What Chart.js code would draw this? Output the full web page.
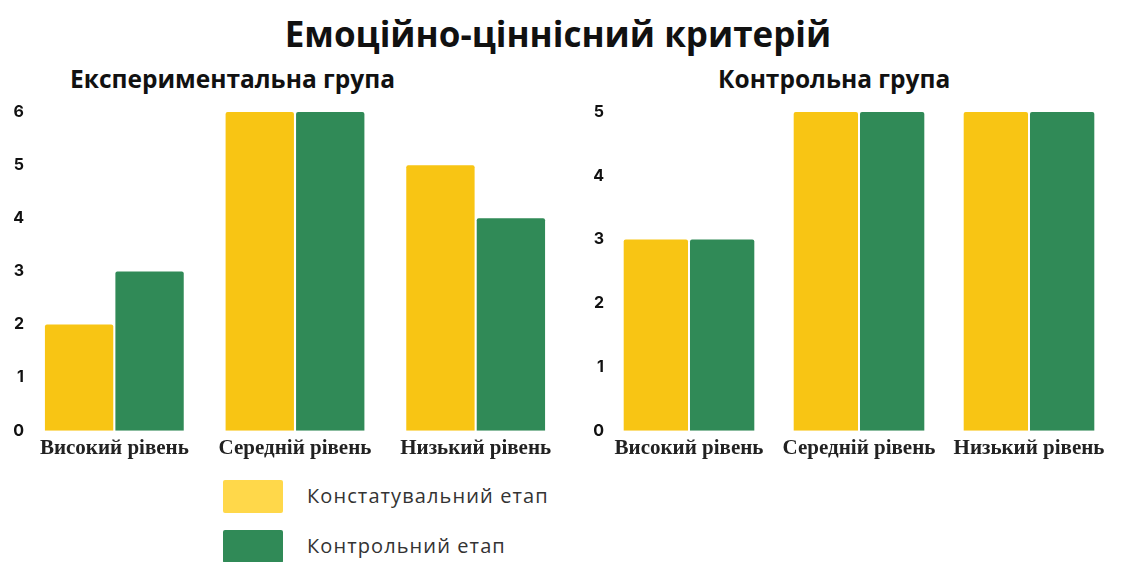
<!DOCTYPE html>
<html lang="uk">
<head>
<meta charset="UTF-8">
<title>Емоційно-ціннісний критерій</title>
<script src="https://cdn.jsdelivr.net/npm/chart.js"></script>
<style>
    body { margin: 0; background: #fff; width: 1134px; height: 562px; position: relative; overflow: hidden; }
    #title { position: absolute; left: -9px; width: 1134px; top: 10px; text-align: center; line-height: 48px;
        font: bold 35px "Open Sans", sans-serif; color: #111; }
    .sub { position: absolute; top: 62px; line-height: 34px; font: bold 24.5px "Open Sans", sans-serif; color: #111; }
    #leftBox { position: absolute; left: 0; top: 95px; width: 572px; height: 379px; }
    #rightBox { position: absolute; left: 578px; top: 95px; width: 540px; height: 379px; }
    .legend-row { position: absolute; left: 223px; height: 33px; }
    .legend-row span.sw { position: absolute; left: 0; top: 0; width: 60px; height: 33px; border-radius: 2px; }
    .legend-row span.tx { position: absolute; left: 84px; top: 2px; line-height: 30px; white-space: nowrap;
        font: 20px "Open Sans", sans-serif; color: #333; letter-spacing: 1.1px; }
</style>
</head>
<body>
    <div id="title">Емоційно-ціннісний критерій</div>
    <div class="sub" style="left:70px">Експериментальна група</div>
    <div class="sub" style="left:718px">Контрольна група</div>
    <div id="leftBox"><canvas id="expChart"></canvas></div>
    <div id="rightBox"><canvas id="ctrlChart"></canvas></div>
    <div class="legend-row" style="top:480px"><span class="sw" id="sw1"></span><span class="tx" id="lg1"></span></div>
    <div class="legend-row" style="top:530px"><span class="sw" id="sw2"></span><span class="tx" id="lg2"></span></div>

<script>
    var categories = ['Високий рівень', 'Середній рівень', 'Низький рівень'];
    var seriesNames = ['Констатувальний етап', 'Контрольний етап'];
    var expStart = [2, 6, 5];
    var expEnd = [3, 6, 4];
    var ctrlStart = [3, 5, 5];
    var ctrlEnd = [3, 5, 5];

    var yellow = '#F8C514';
    var green = '#308A57';

    document.getElementById('sw1').style.background = '#FFD84A';
    document.getElementById('sw2').style.background = green;
    document.getElementById('lg1').textContent = seriesNames[0];
    document.getElementById('lg2').textContent = seriesNames[1];

    function makeChart(id, a, b, maxY, axisWidth, pad) {
        var ctx = document.getElementById(id).getContext('2d');
        return new Chart(ctx, {
            type: 'bar',
            data: {
                labels: categories,
                datasets: [
                    { label: seriesNames[0], data: a, backgroundColor: yellow, borderRadius: 2,
                      categoryPercentage: 0.78, barPercentage: 0.97 },
                    { label: seriesNames[1], data: b, backgroundColor: green, borderRadius: 2,
                      categoryPercentage: 0.78, barPercentage: 0.97 }
                ]
            },
            options: {
                responsive: true,
                maintainAspectRatio: false,
                animation: false,
                layout: { padding: pad },
                plugins: { legend: { display: false }, tooltip: { enabled: false } },
                scales: {
                    x: {
                        grid: { display: false, drawTicks: false },
                        border: { display: false },
                        ticks: { color: '#222', padding: 5.5, maxRotation: 0,
                            font: { family: '"Liberation Serif", serif', weight: 'bold', size: 21 } }
                    },
                    y: {
                        min: 0, max: maxY,
                        grid: { display: false, drawTicks: false },
                        border: { display: false },
                        afterFit: function (scale) { scale.width = axisWidth; },
                        ticks: { stepSize: 1, color: '#111', padding: 0,
                            font: { family: 'Inter, sans-serif', weight: 'bold', size: 16 } }
                    }
                }
            }
        });
    }

    makeChart('expChart', expStart, expEnd, 6, 24, { left: 0, top: 17, right: 6, bottom: 7 });
    makeChart('ctrlChart', ctrlStart, ctrlEnd, 5, 26, { left: 0, top: 17, right: 4, bottom: 7 });
</script>
</body>
</html>
